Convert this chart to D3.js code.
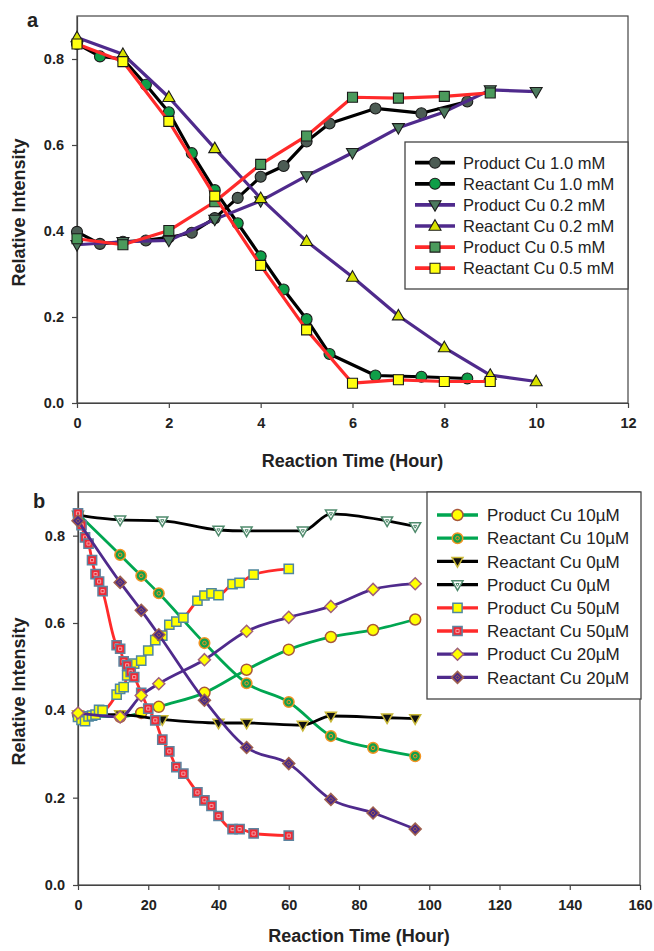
<!DOCTYPE html>
<html><head><meta charset="utf-8">
<script src="https://cdn.jsdelivr.net/npm/d3@7"></script>
<style>
body{margin:0;background:#fff}
svg{display:block}
text{font-family:"Liberation Sans",Arial,sans-serif;fill:#222}
</style>
</head><body>
<svg id="c" width="654" height="951"></svg>
<script>
// ---------- Panel a data ----------
const aTicksX = [0, 2, 4, 6, 8, 10, 12];
const aTicksY = [0.0, 0.2, 0.4, 0.6, 0.8];
const aT10 = [0, 0.5, 1, 1.5, 2, 2.5, 3, 3.5, 4, 4.5, 5, 5.5, 6.5, 7.5, 8.5];
const aProd10 = [0.398, 0.370, 0.375, 0.378, 0.385, 0.396, 0.430, 0.477, 0.526, 0.551, 0.608, 0.650, 0.685, 0.674, 0.701];
const aReac10 = [0.835, 0.806, 0.800, 0.740, 0.676, 0.581, 0.495, 0.418, 0.341, 0.264, 0.195, 0.114, 0.064, 0.061, 0.057];
const aT02 = [0, 1, 2, 3, 4, 5, 6, 7, 8, 9, 10];
const aProd02 = [0.368, 0.375, 0.378, 0.427, 0.470, 0.528, 0.582, 0.640, 0.677, 0.728, 0.724];
const aReac02 = [0.850, 0.811, 0.711, 0.592, 0.476, 0.376, 0.293, 0.203, 0.129, 0.065, 0.050];
const aT05 = [0, 1, 2, 3, 4, 5, 6, 7, 8, 9];
const aProd05 = [0.382, 0.368, 0.401, 0.468, 0.555, 0.621, 0.711, 0.709, 0.713, 0.721];
const aReac05 = [0.835, 0.794, 0.655, 0.481, 0.320, 0.170, 0.046, 0.054, 0.050, 0.050];
const aNames = ["Product Cu 1.0 mM", "Reactant Cu 1.0 mM", "Product Cu 0.2 mM", "Reactant Cu 0.2 mM", "Product Cu 0.5 mM", "Reactant Cu 0.5 mM"];

// ---------- Panel b data ----------
const bTicksX = [0, 20, 40, 60, 80, 100, 120, 140, 160];
const bTicksY = [0.0, 0.2, 0.4, 0.6, 0.8];
const bT10 = [0, 12, 18, 23, 36, 48, 60, 72, 84, 96];
const bProd10 = [0.390, 0.385, 0.394, 0.408, 0.440, 0.493, 0.539, 0.568, 0.584, 0.608];
const bReac10 = [0.850, 0.756, 0.708, 0.668, 0.554, 0.462, 0.419, 0.341, 0.314, 0.295];
const bT0 = [0, 12, 24, 40, 48, 64, 72, 88, 96];
const bReac0 = [0.390, 0.390, 0.379, 0.371, 0.371, 0.366, 0.387, 0.383, 0.381];
const bProd0 = [0.847, 0.836, 0.834, 0.813, 0.811, 0.811, 0.850, 0.834, 0.821];
const bT50 = [0, 1, 2, 3, 4, 5, 6, 7, 11, 12, 13, 14, 15, 16, 18, 20, 22, 24, 26, 28, 30, 34, 36, 38, 40, 44, 46, 50, 60];
const bProd50 = [0.385, 0.378, 0.375, 0.386, 0.388, 0.390, 0.401, 0.400, 0.436, 0.449, 0.453, 0.480, 0.504, 0.507, 0.514, 0.537, 0.561, 0.571, 0.596, 0.603, 0.612, 0.651, 0.663, 0.668, 0.664, 0.689, 0.692, 0.711, 0.724];
const bReac50 = [0.851, 0.824, 0.796, 0.782, 0.744, 0.712, 0.695, 0.673, 0.549, 0.541, 0.512, 0.503, 0.488, 0.476, 0.440, 0.404, 0.377, 0.333, 0.306, 0.270, 0.255, 0.212, 0.194, 0.181, 0.158, 0.128, 0.128, 0.118, 0.113];
const bT20 = [0, 12, 18, 23, 36, 48, 60, 72, 84, 96];
const bProd20 = [0.394, 0.385, 0.434, 0.461, 0.516, 0.581, 0.613, 0.638, 0.677, 0.690];
const bReac20 = [0.834, 0.693, 0.629, 0.573, 0.423, 0.315, 0.278, 0.196, 0.165, 0.128];
const bNames = ["Product Cu 10\u00b5M", "Reactant Cu 10\u00b5M", "Reactant Cu 0\u00b5M", "Product Cu 0\u00b5M", "Product Cu 50\u00b5M", "Reactant Cu 50\u00b5M", "Product Cu 20\u00b5M", "Reactant Cu 20\u00b5M"];

// ---------- styles ----------
const BLACK = "#000", PURPLE = "#4f2a8c", RED = "#ff2a2a", GREEN = "#00a651";
const aStyles = [
  {line: BLACK, shape: "circle", r: 5.5, fill: "#4c5c54", stroke: "#1a1a1a"},
  {line: BLACK, shape: "circle", r: 5.5, fill: "#0f9e48", stroke: "#1a1a1a"},
  {line: PURPLE, shape: "triDown", r: 6, fill: "#4c7a5e", stroke: "#1a1a1a"},
  {line: PURPLE, shape: "triUp", r: 6, fill: "#d8e200", stroke: "#1a1a1a"},
  {line: RED, shape: "square", r: 5, fill: "#4b9a5c", stroke: "#1a1a1a"},
  {line: RED, shape: "square", r: 5, fill: "#ffff10", stroke: "#1a1a1a"}
];
const bStyles = [
  {line: GREEN, shape: "circle", r: 5.5, fill: "#ffff00", stroke: "#a8583a"},
  {line: GREEN, shape: "circle", r: 5.3, fill: "#14a04a", stroke: "#f39422", inner: {shape: "circle", r: 1.8, stroke: "#f39422"}},
  {line: BLACK, shape: "triDown", r: 5.5, fill: "#111", stroke: "#c9b838"},
  {line: BLACK, shape: "triDown", r: 5.5, fill: "#fff", stroke: "#4f8a6c", inner: {shape: "triDown", r: 1.6, stroke: "#4f8a6c"}},
  {line: RED, shape: "square", r: 4.6, fill: "#ffff00", stroke: "#4f87a0"},
  {line: RED, shape: "square", r: 4.6, fill: "#ee2a35", stroke: "#5d84a0", inner: {shape: "square", r: 1.6, stroke: "#f4a0a8"}},
  {line: PURPLE, shape: "diamond", r: 6, fill: "#ffff00", stroke: "#a0607a"},
  {line: PURPLE, shape: "diamond", r: 6, fill: "#4a2a86", stroke: "#a0604e", inner: {shape: "diamond", r: 2, stroke: "#a0604e"}}
];

function shapePath(type, r) {
  switch (type) {
    case "circle": return `M${r},0A${r},${r} 0 1,1 ${-r},0A${r},${r} 0 1,1 ${r},0Z`;
    case "square": return `M${-r},${-r}H${r}V${r}H${-r}Z`;
    case "diamond": return `M0,${-r}L${r},0L0,${r}L${-r},0Z`;
    case "triUp": return `M0,${-r * 1.05}L${r},${r * 0.7}L${-r},${r * 0.7}Z`;
    case "triDown": return `M0,${r * 1.05}L${r},${-r * 0.7}L${-r},${-r * 0.7}Z`;
  }
}
function drawMarker(g, st, x, y, sw) {
  g.append("path").attr("d", shapePath(st.shape, st.r)).attr("transform", `translate(${x},${y})`)
    .attr("fill", st.fill).attr("stroke", st.stroke).attr("stroke-width", sw);
  if (st.inner) {
    g.append("path").attr("d", shapePath(st.inner.shape, st.inner.r)).attr("transform", `translate(${x},${y})`)
      .attr("fill", "none").attr("stroke", st.inner.stroke).attr("stroke-width", 1);
  }
}

const svg = d3.select("#c");
svg.append("rect").attr("width", 654).attr("height", 951).attr("fill", "#fff");

function panel(cfg) {
  const {left, right, top, bottom, xDom, yDom, xTicks, yTicks, series, styles, names, curve, lineW, markerSW, legend, letter, letterPos, titleOff} = cfg;
  const x = d3.scaleLinear().domain(xDom).range([left, right]);
  const y = d3.scaleLinear().domain(yDom).range([bottom, top]);
  const g = svg.append("g");

  // frame
  g.append("rect").attr("x", left).attr("y", top).attr("width", right - left).attr("height", bottom - top)
    .attr("fill", "none").attr("stroke", "#444").attr("stroke-width", 1.2);

  const xa = g.append("g").attr("transform", `translate(0,${bottom})`)
    .call(d3.axisBottom(x).tickValues(xTicks).tickFormat(d3.format("d")).tickSize(5).tickSizeOuter(0).tickPadding(10));
  const ya = g.append("g").attr("transform", `translate(${left},0)`)
    .call(d3.axisLeft(y).tickValues(yTicks).tickFormat(d3.format(".1f")).tickSize(5).tickSizeOuter(0).tickPadding(8));
  [xa, ya].forEach(a => {
    a.select(".domain").attr("stroke", "#444").attr("stroke-width", 1.2);
    a.selectAll(".tick line").attr("stroke", "#444").attr("stroke-width", 1.2);
    a.selectAll(".tick text").attr("font-size", 14.5).attr("font-weight", "bold").attr("fill", "#222")
      .style("font-family", '"Liberation Sans",Arial,sans-serif');
  });

  // axis titles
  g.append("text").attr("x", (left + right) / 2).attr("y", bottom + titleOff).attr("text-anchor", "middle")
    .attr("font-size", 18).attr("font-weight", "bold").text("Reaction Time (Hour)");
  g.append("text").attr("transform", `translate(25,${(top + bottom) / 2 + 3}) rotate(-90)`).attr("text-anchor", "middle")
    .attr("font-size", 18).attr("font-weight", "bold").text("Relative Intensity");
  g.append("text").attr("x", letterPos[0]).attr("y", letterPos[1]).attr("font-size", 20).attr("font-weight", "bold").text(letter);

  const line = d3.line().x(d => x(d[0])).y(d => y(d[1])).curve(curve);
  series.forEach((s, i) => {
    const pts = s.t.map((t, k) => [t, s.v[k]]);
    const st = styles[i];
    g.append("path").attr("d", line(pts)).attr("fill", "none").attr("stroke", st.line)
      .attr("stroke-width", lineW).attr("stroke-linejoin", "round");
    const mg = g.append("g");
    pts.forEach(p => drawMarker(mg, st, x(p[0]), y(p[1]), markerSW));
  });

  // legend
  const lg = g.append("g");
  lg.append("rect").attr("x", legend.x0).attr("y", legend.y0).attr("width", legend.x1 - legend.x0).attr("height", legend.y1 - legend.y0)
    .attr("fill", "#fff").attr("stroke", "#444").attr("stroke-width", 1.3);
  names.forEach((n, i) => {
    const cy = legend.first + i * legend.step;
    lg.append("line").attr("x1", legend.lx0).attr("x2", legend.lx1).attr("y1", cy).attr("y2", cy)
      .attr("stroke", styles[i].line).attr("stroke-width", lineW + 0.5);
    drawMarker(lg, styles[i], (legend.lx0 + legend.lx1) / 2, cy, markerSW);
    lg.append("text").attr("x", legend.tx).attr("y", cy + legend.fs * 0.36).attr("font-size", legend.fs).text(n);
  });
}

panel({
  left: 77, right: 628, top: 16, bottom: 403,
  xDom: [0, 12], yDom: [0, 0.9], xTicks: aTicksX, yTicks: aTicksY,
  series: [
    {t: aT10, v: aProd10}, {t: aT10, v: aReac10},
    {t: aT02, v: aProd02}, {t: aT02, v: aReac02},
    {t: aT05, v: aProd05}, {t: aT05, v: aReac05}
  ],
  styles: aStyles, names: aNames, curve: d3.curveLinear, lineW: 3.2, markerSW: 1.1,
  legend: {x0: 405, x1: 628, y0: 142, y1: 289, first: 162.7, step: 21.1, lx0: 415, lx1: 455, tx: 463, fs: 16.5},
  letter: "a", letterPos: [27, 27], titleOff: 64
});

panel({
  left: 78, right: 640, top: 492, bottom: 885,
  xDom: [0, 160], yDom: [0, 0.9], xTicks: bTicksX, yTicks: bTicksY,
  series: [
    {t: bT10, v: bProd10}, {t: bT10, v: bReac10},
    {t: bT0, v: bReac0}, {t: bT0, v: bProd0},
    {t: bT50, v: bProd50}, {t: bT50, v: bReac50},
    {t: bT20, v: bProd20}, {t: bT20, v: bReac20}
  ],
  styles: bStyles, names: bNames, curve: d3.curveMonotoneX, lineW: 2.8, markerSW: 1.5,
  legend: {x0: 427, x1: 641, y0: 492, y1: 699, first: 515, step: 23.2, lx0: 437, lx1: 478, tx: 487, fs: 17},
  letter: "b", letterPos: [33, 508], titleOff: 57
});
</script>
</body></html>
